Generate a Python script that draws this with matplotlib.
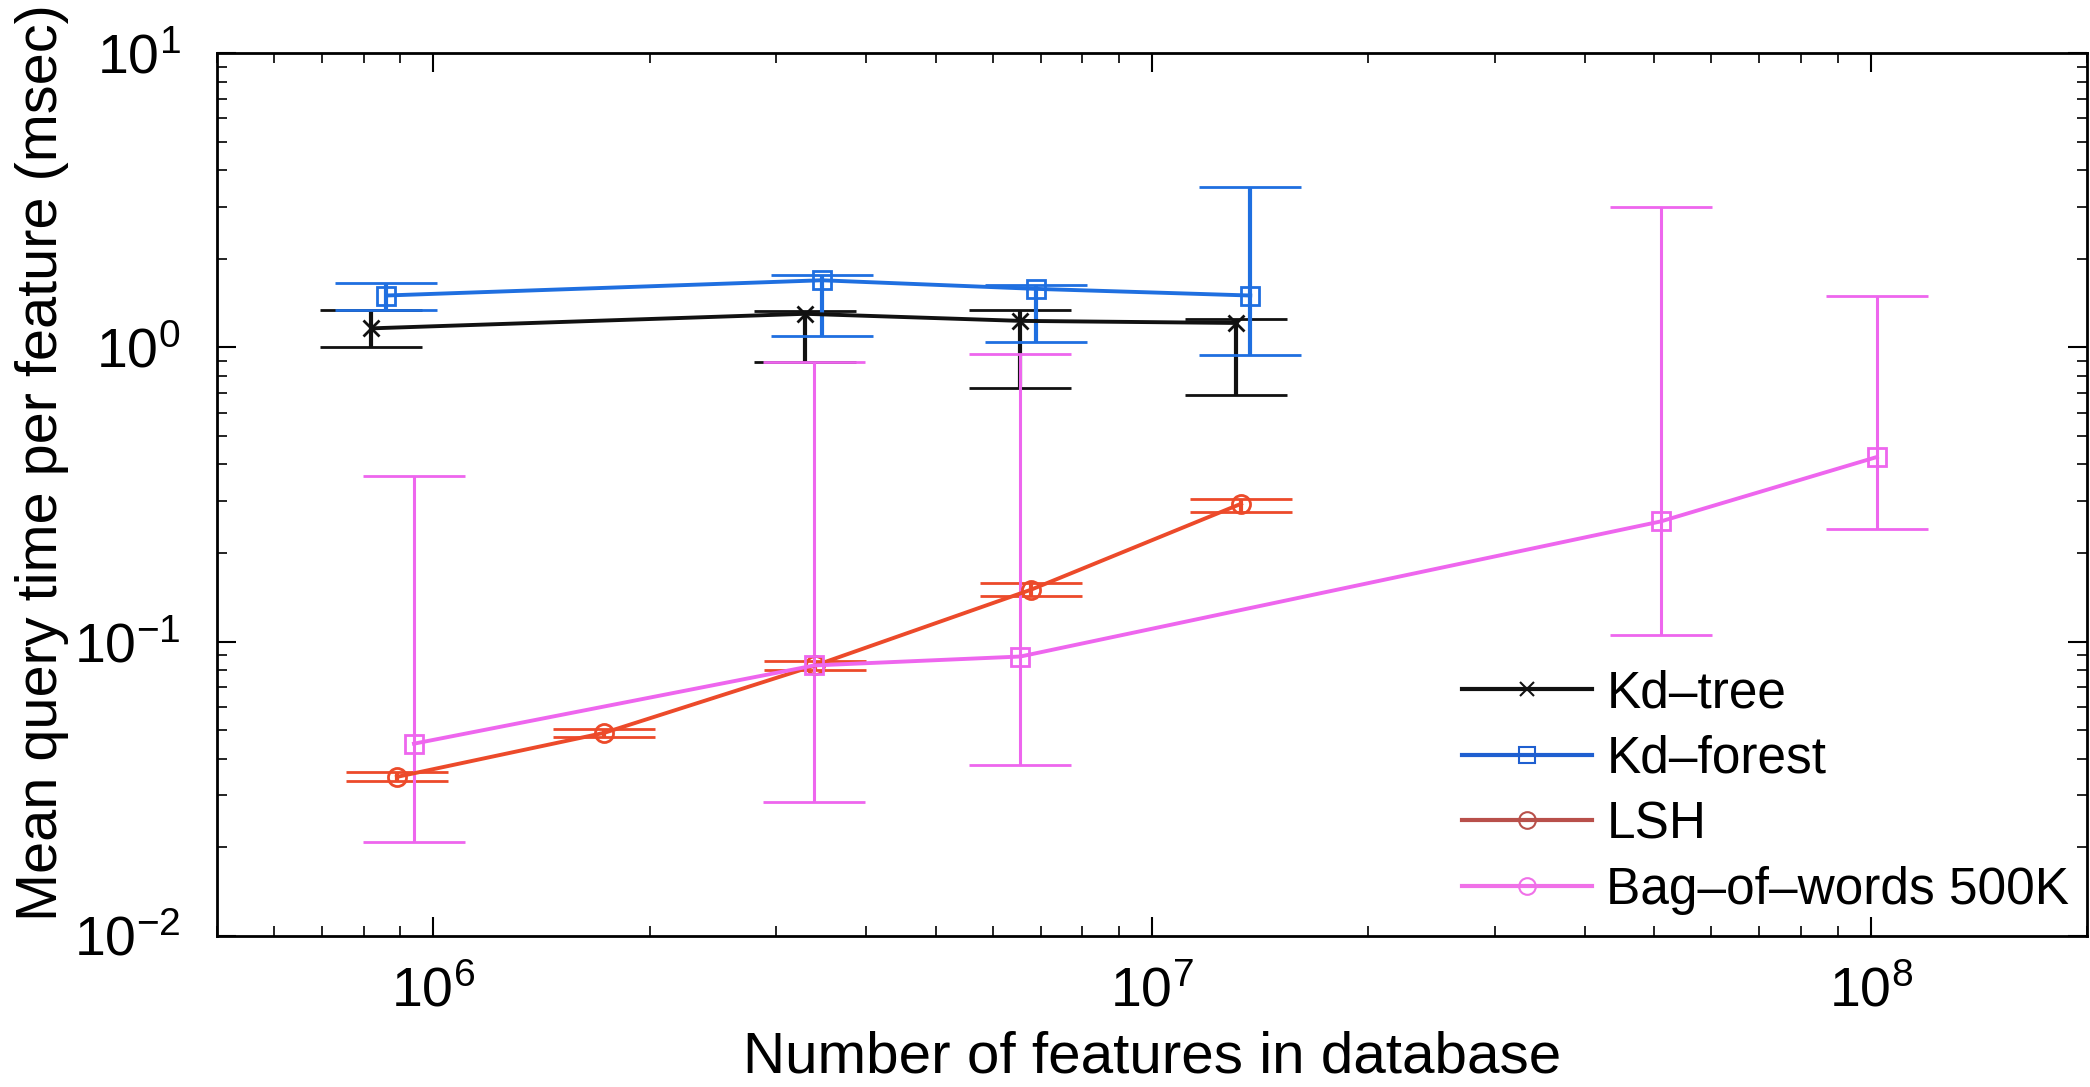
import matplotlib
matplotlib.use("Agg")
import matplotlib.pyplot as plt
import numpy as np
from matplotlib.lines import Line2D
from matplotlib import font_manager

names = {f.name for f in font_manager.fontManager.ttflist}
if 'Liberation Sans Narrow' in names:
    tick_family = 'Liberation Sans Narrow'
    tick_size = 45
else:
    tick_family = 'Liberation Sans'
    tick_size = 40

plt.rcParams['font.family'] = ['Liberation Sans', 'DejaVu Sans']
plt.rcParams['mathtext.fontset'] = 'custom'
plt.rcParams['mathtext.rm'] = tick_family
plt.rcParams['mathtext.it'] = tick_family + ':italic'
plt.rcParams['mathtext.bf'] = tick_family + ':bold'

# ---- data ----
kdtree_x = [8.2e5, 3.29e6, 6.56e6, 1.31e7]
kdtree_y = [1.16, 1.30, 1.23, 1.21]
kdtree_lo = [1.00, 0.89, 0.73, 0.69]
kdtree_hi = [1.34, 1.33, 1.34, 1.25]

kdforest_x = [8.6e5, 3.47e6, 6.9e6, 1.37e7]
kdforest_y = [1.50, 1.69, 1.58, 1.50]
kdforest_lo = [1.34, 1.09, 1.04, 0.94]
kdforest_hi = [1.65, 1.76, 1.63, 3.51]

lsh_x = [8.9e5, 1.73e6, 3.4e6, 6.78e6, 1.33e7]
lsh_y = [0.0347, 0.049, 0.083, 0.150, 0.294]
lsh_lo = [0.0335, 0.0475, 0.080, 0.143, 0.276]
lsh_hi = [0.0360, 0.0505, 0.086, 0.158, 0.306]

bow_x = [9.4e5, 3.39e6, 6.56e6, 5.1e7, 1.02e8]
bow_y = [0.045, 0.083, 0.089, 0.256, 0.424]
bow_lo = [0.0208, 0.0285, 0.038, 0.105, 0.241]
bow_hi = [0.366, 0.89, 0.95, 3.0, 1.50]

labels = ["Kd\u2013tree", "Kd\u2013forest", "LSH", "Bag\u2013of\u2013words 500K"]
colors = ["#111111", "#1f6fe0", "#ec4a2a", "#ee66ee"]
legend_colors = ["#111111", "#1f5fd0", "#b8504a", "#f070e8"]
markers = ["x", "s", "o", "s"]
legend_markers = ["x", "s", "o", "o"]

fig = plt.figure(figsize=(20.9, 10.87), dpi=100)
ax = fig.add_axes([0.1038, 0.139, 0.8948, 0.8122])

series = [
    (kdtree_x, kdtree_y, kdtree_lo, kdtree_hi, 3.0),
    (kdforest_x, kdforest_y, kdforest_lo, kdforest_hi, 3.0),
    (lsh_x, lsh_y, lsh_lo, lsh_hi, 3.0),
    (bow_x, bow_y, bow_lo, bow_hi, 2.2),
]
for (x, y, lo, hi, elw), c, m in zip(series, colors, markers):
    y = np.array(y); lo = np.array(lo); hi = np.array(hi)
    yerr = np.vstack([y - lo, hi - y])
    ax.errorbar(x, y, yerr=yerr, color=c, marker=m, ms=13 if m != 'x' else 11,
                mfc='none', mew=2, lw=2.8, elinewidth=elw, capsize=37,
                capthick=3.5)

ax.set_xscale('log')
ax.set_yscale('log')
ax.set_xlim(5e5, 2e8)
ax.set_ylim(1e-2, 1e1)

ax.tick_params(which='both', direction='in', top=True, right=True)
ax.tick_params(which='major', length=14, width=1.5, labelsize=tick_size)
ax.tick_params(axis='y', which='major', pad=26)
ax.tick_params(axis='x', which='major', pad=22)
ax.tick_params(which='minor', length=7, width=1.2)
for s in ax.spines.values():
    s.set_linewidth(2)

ax.set_xlabel("Number of features in database", fontsize=42)
ax.set_ylabel("Mean query time per feature (msec)", fontsize=41.5)
ax.xaxis.set_label_coords(0.5, -0.107)
ax.yaxis.set_label_coords(-0.079, 0.536)

handles = [Line2D([], [], color=c, marker=m, ms=12 if m != 'x' else 10,
                  mfc='none', mew=1.5, lw=3)
           for c, m in zip(legend_colors, legend_markers)]
ax.legend(handles, labels, loc='upper left', frameon=False, fontsize=37,
          handlelength=2.53, handletextpad=0.27, labelspacing=0.32,
          bbox_to_anchor=(0.666, 0.302), borderaxespad=0, borderpad=0)

fig.savefig("out.png", dpi=100, facecolor='white')
